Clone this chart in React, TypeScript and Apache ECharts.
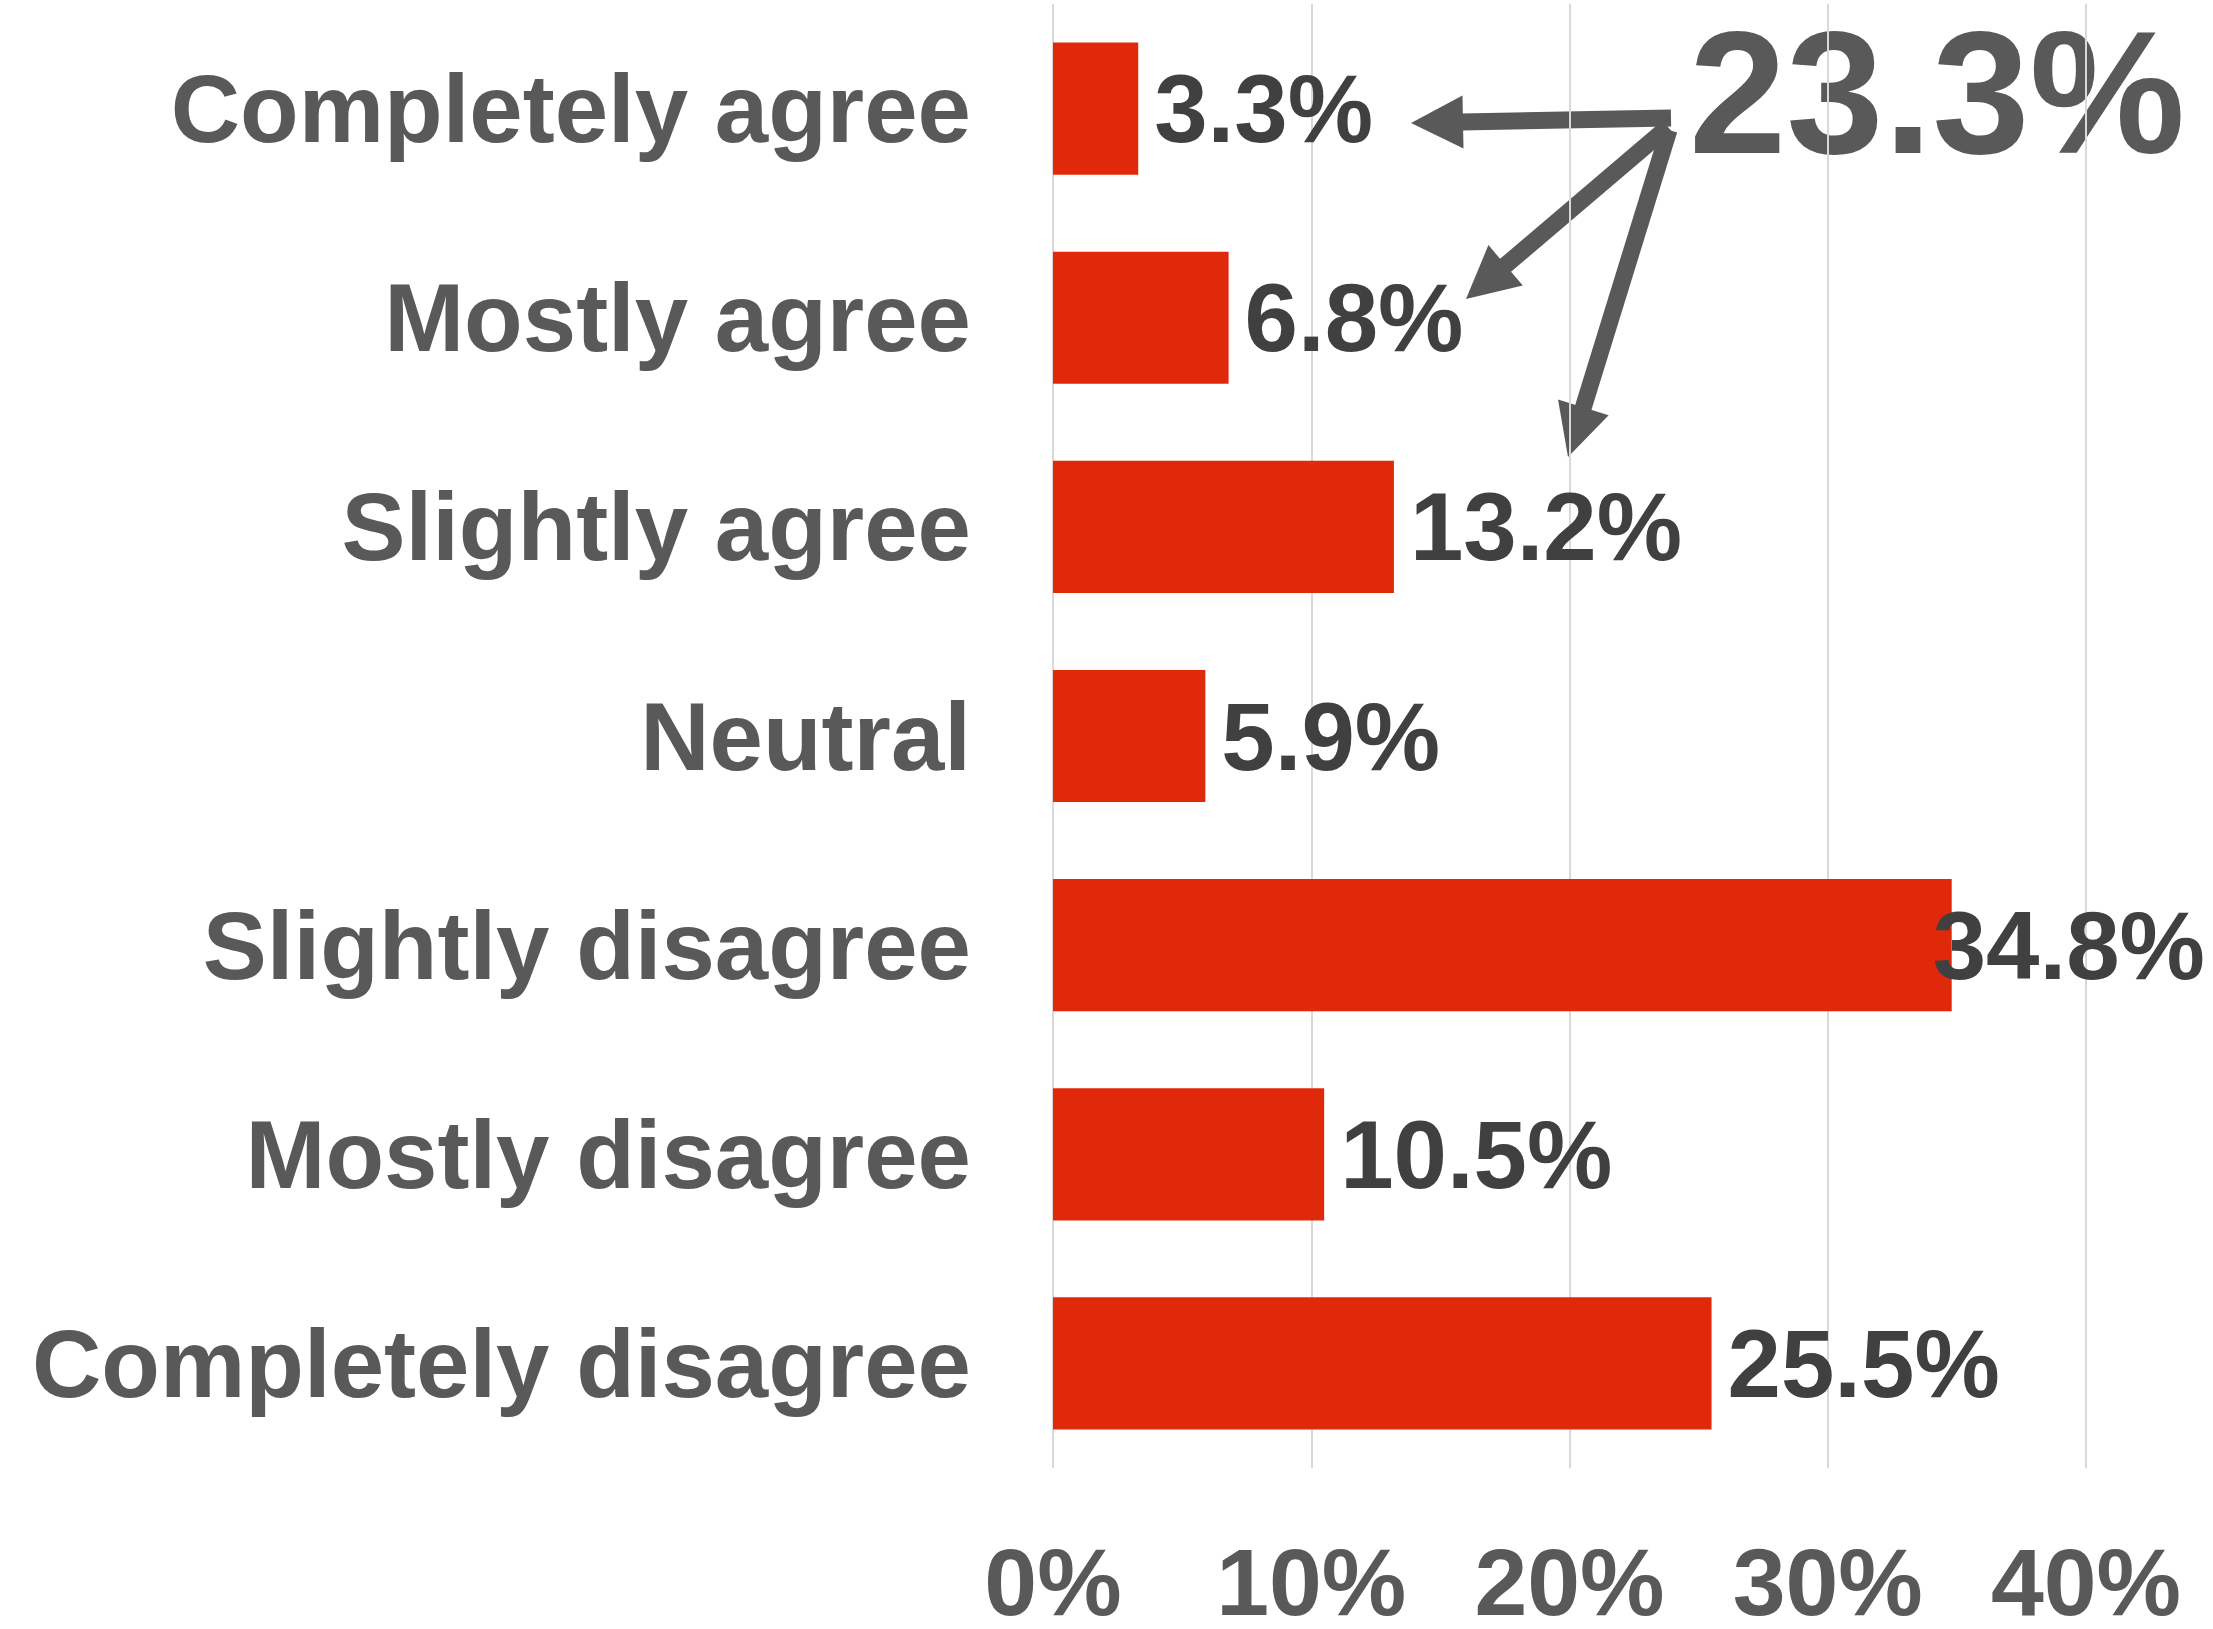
import React, { useEffect, useRef } from "react";
import * as echarts from "echarts";

const categories = [
  "Completely agree",
  "Mostly agree",
  "Slightly agree",
  "Neutral",
  "Slightly disagree",
  "Mostly disagree",
  "Completely disagree",
];
const values = [3.3, 6.8, 13.2, 5.9, 34.8, 10.5, 25.5];
const xTicks = [0, 10, 20, 30, 40];
const calloutText = "23.3%";

const FONT = "'Liberation Sans', Arial, Helvetica, sans-serif";
const LABEL_GREY = "#595959";
const VALUE_GREY = "#404040";
const BAR_RED = "#E0290A";
const ARROW_GREY = "#595959";

function arrow(sx: number, sy: number, tx: number, ty: number) {
  const headLen = 52;
  const headHalf = 26.5;
  const dx = tx - sx;
  const dy = ty - sy;
  const len = Math.sqrt(dx * dx + dy * dy);
  const ux = dx / len;
  const uy = dy / len;
  const bx = tx - ux * headLen;
  const by = ty - uy * headLen;
  const px = -uy;
  const py = ux;
  return [
    {
      type: "line",
      shape: { x1: sx, y1: sy, x2: bx + ux * 2, y2: by + uy * 2 },
      style: { stroke: ARROW_GREY, lineWidth: 17, lineCap: "butt" },
      silent: true,
    },
    {
      type: "polygon",
      shape: {
        points: [
          [tx, ty],
          [bx + px * headHalf, by + py * headHalf],
          [bx - px * headHalf, by - py * headHalf],
        ],
      },
      style: { fill: ARROW_GREY },
      silent: true,
    },
  ];
}

export default function App() {
  const ref = useRef<HTMLDivElement>(null);

  useEffect(() => {
    if (!ref.current) return;
    const chart = echarts.init(ref.current, undefined, { renderer: "svg" });
    const maxVal = Math.max(...values);
    const option = {
      animation: false,
      backgroundColor: "#ffffff",
      grid: { left: 1053, right: 127, top: 4, bottom: 154, containLabel: false },
      xAxis: {
        type: "value",
        min: xTicks[0],
        max: xTicks[xTicks.length - 1],
        interval: xTicks[1] - xTicks[0],
        axisLine: { show: false },
        axisTick: { show: false },
        splitLine: { show: true, lineStyle: { color: "#d9d9d9", width: 2 } },
        axisLabel: {
          formatter: "{value}%",
          color: LABEL_GREY,
          fontFamily: FONT,
          fontWeight: "bold",
          fontSize: 95,
          lineHeight: 95,
          margin: 66,
        },
      },
      yAxis: {
        type: "category",
        data: categories,
        inverse: true,
        axisLine: { show: false },
        axisTick: { show: false },
        splitLine: { show: false },
        axisLabel: {
          color: LABEL_GREY,
          fontFamily: FONT,
          fontWeight: "bold",
          fontSize: 96,
          lineHeight: 96,
          margin: 82,
        },
      },
      series: [
        {
          type: "bar",
          barCategoryGap: "36.8%",
          itemStyle: { color: BAR_RED },
          data: values.map((v) => ({
            value: v,
            label: v === maxVal ? { offset: [-35, 0] } : undefined,
          })),
          label: {
            show: true,
            position: "right",
            distance: 16,
            formatter: (p: any) => `${Number(p.value).toFixed(1)}%`,
            color: VALUE_GREY,
            fontFamily: FONT,
            fontWeight: "bold",
            fontSize: 96,
            lineHeight: 96,
          },
        },
      ],
      graphic: [
        ...arrow(1671, 118, 1411, 123),
        ...arrow(1668, 127, 1466, 299),
        ...arrow(1669, 130, 1568, 457),
        {
          type: "text",
          x: 1689,
          y: 92,
          style: {
            text: calloutText,
            fill: LABEL_GREY,
            font: `bold 175px ${FONT}`,
            textAlign: "left",
            textVerticalAlign: "middle",
          },
          silent: true,
        },
      ],
    };
    chart.setOption(option as any);
    return () => chart.dispose();
  }, []);

  return (
    <div
      ref={ref}
      style={{ position: "fixed", left: 0, top: 0, width: 2213, height: 1629, background: "#fff" }}
    />
  );
}
